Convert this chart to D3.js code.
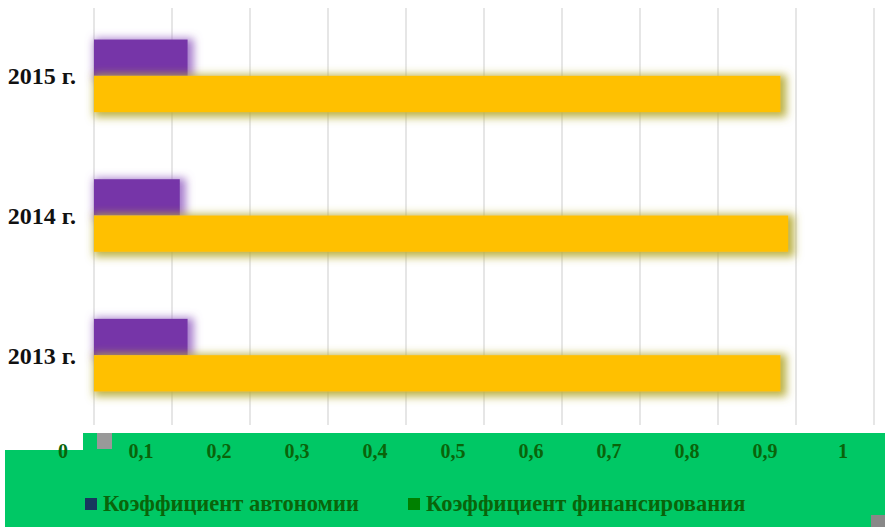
<!DOCTYPE html>
<html>
<head>
<meta charset="utf-8">
<script src="https://cdn.jsdelivr.net/npm/d3@7"></script>
<style>
  body { margin: 0; background: #fff; }
  svg { display: block; font-family: "Liberation Serif", "Times New Roman", serif; font-weight: bold; }
</style>
</head>
<body>
<svg id="chart" width="885" height="527"></svg>
<script>
const categories = ["2015 г.", "2014 г.", "2013 г."];
const autonomy = [0.12, 0.11, 0.12];
const financing = [0.88, 0.89, 0.88];
const ticks = [0, 0.1, 0.2, 0.3, 0.4, 0.5, 0.6, 0.7, 0.8, 0.9, 1];
const seriesNames = ["Коэффициент автономии", "Коэффициент финансирования"];

const svg = d3.select("#chart");
const W = 885, H = 527;

const x = d3.scaleLinear().domain([0, 1]).range([94, 874]);
const y = d3.scaleBand().domain(categories).range([6, 425]).paddingInner(0.48).paddingOuter(0.24);
const sub = d3.scaleBand().domain(["a", "f"]).range([0, y.bandwidth()]);

// soft glow round the bars
const defs = svg.append("defs");
function glow(id, color, op) {
  const f = defs.append("filter").attr("id", id)
    .attr("filterUnits", "userSpaceOnUse")
    .attr("x", 70).attr("y", 0).attr("width", 800).attr("height", 440);
  f.append("feMorphology").attr("in", "SourceAlpha").attr("operator", "dilate").attr("radius", 3).attr("result", "d");
  f.append("feGaussianBlur").attr("in", "d").attr("stdDeviation", 4.5).attr("result", "b");
  f.append("feOffset").attr("in", "b").attr("dx", 3).attr("dy", 2).attr("result", "o");
  f.append("feFlood").attr("flood-color", color).attr("flood-opacity", op);
  f.append("feComposite").attr("in2", "o").attr("operator", "in").attr("result", "s");
  const m = f.append("feMerge");
  m.append("feMergeNode").attr("in", "s");
  m.append("feMergeNode").attr("in", "SourceGraphic");
}
glow("glowP", "#9c6cc6", 0.9);
glow("glowY", "#b8ae3a", 0.95);

// gridlines
svg.append("g").selectAll("line").data(ticks).join("line")
  .attr("x1", d => x(d)).attr("x2", d => x(d))
  .attr("y1", 8).attr("y2", 425)
  .attr("stroke", "#d9d9d9").attr("stroke-width", 1.3);

// bars
const rows = categories.map((c, i) => ({ c, a: autonomy[i], f: financing[i] }));
svg.append("g").selectAll("rect").data(rows).join("rect")
  .attr("x", x(0)).attr("y", d => y(d.c) + sub("a"))
  .attr("width", d => x(d.a) - x(0)).attr("height", sub.bandwidth())
  .attr("fill", "#7636a8").attr("filter", "url(#glowP)");
svg.append("g").selectAll("rect").data(rows).join("rect")
  .attr("x", x(0)).attr("y", d => y(d.c) + sub("f"))
  .attr("width", d => x(d.f) - x(0)).attr("height", sub.bandwidth())
  .attr("fill", "#ffc000").attr("filter", "url(#glowY)");

// category labels
svg.append("g").selectAll("text").data(categories).join("text")
  .attr("x", 76).attr("y", d => y(d) + y.bandwidth() / 2)
  .attr("dy", "0.35em").attr("text-anchor", "end")
  .attr("font-size", 24).attr("fill", "#111")
  .text(d => d);

// green panel
const green = "#00c865";
svg.append("path")
  .attr("d", `M83,433 H${W} V${H} H5 V450 H83 Z`)
  .attr("fill", green);
svg.append("rect").attr("x", 97).attr("y", 433).attr("width", 15).attr("height", 16).attr("fill", "#999");
svg.append("rect").attr("x", 871).attr("y", 515).attr("width", 14).attr("height", 12).attr("fill", "#888");

// tick labels (shifted left as in the picture)
const fmt = d => String(d).replace(".", ",");
svg.append("g").selectAll("text").data(ticks).join("text")
  .attr("x", d => x(d) - 31).attr("y", 458)
  .attr("text-anchor", "middle").attr("font-size", 20).attr("fill", "#0a640a")
  .text(fmt);

// legend
const legendColors = ["#17375e", "#008000"];
const legendX = [85, 408];
const lg = svg.append("g").selectAll("g").data(seriesNames).join("g")
  .attr("transform", (d, i) => `translate(${legendX[i]},0)`);
lg.append("rect").attr("x", 0).attr("y", 498).attr("width", 12).attr("height", 12)
  .attr("fill", (d, i) => legendColors[i]);
lg.append("text").attr("x", 18).attr("y", 511)
  .attr("font-size", 22.5).attr("fill", "#0a640a")
  .text(d => d);
</script>
</body>
</html>
